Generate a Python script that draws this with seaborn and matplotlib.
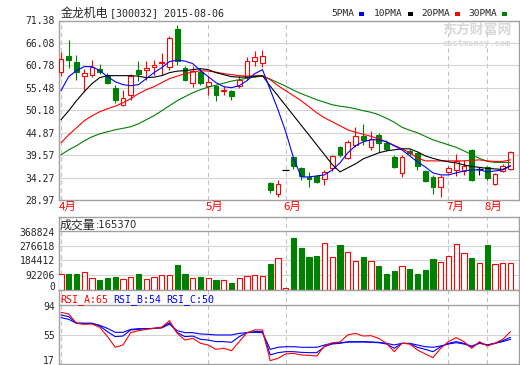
import matplotlib
matplotlib.use('Agg')
import matplotlib.pyplot as plt
from matplotlib.patches import Rectangle
from matplotlib.transforms import blended_transform_factory, ScaledTranslation
import numpy as np
import pandas as pd
import seaborn as sns

# ---- values (one entry per trading day) ----
opens = [59.23, 63.09, 61.50, 58.35, 58.59, 59.94, 58.59, 55.44, 51.48, 53.85,
         59.77, 59.61, 60.32, 61.30, 60.32, 69.41, 60.17, 56.62, 59.13, 55.82,
         55.98, 54.80, 54.80, 55.82, 57.95, 61.74, 61.36, 32.93, 30.32, 35.96,
         39.09, 36.48, 34.35, 34.66, 33.88, 36.48, 41.60, 38.85, 42.00, 44.14,
         41.46, 44.37, 42.40, 39.09, 35.44, 40.60, 40.04, 35.85, 34.35, 31.98,
         35.68, 36.08, 35.90, 40.82, 36.25, 36.86, 32.77, 35.90, 36.25]
closes = [62.31, 61.98, 59.23, 58.99, 60.32, 59.13, 56.62, 52.67, 53.07, 58.18,
          58.82, 60.17, 60.88, 61.50, 67.28, 61.74, 57.40, 59.37, 56.62, 56.86,
          53.85, 54.90, 53.45, 57.40, 61.90, 62.69, 62.93, 31.34, 32.69, 35.96,
          37.03, 34.66, 33.95, 33.31, 35.68, 39.40, 39.64, 42.79, 44.14, 43.19,
          43.36, 42.55, 40.98, 36.87, 39.24, 40.00, 37.03, 33.55, 31.98, 34.50,
          36.48, 38.29, 37.03, 33.71, 36.25, 34.12, 35.13, 37.03, 40.42]
highs = [63.87, 66.88, 63.33, 60.01, 62.14, 61.12, 58.99, 56.22, 55.03, 58.82,
         61.90, 61.74, 62.14, 63.73, 67.83, 70.20, 60.56, 60.56, 60.17, 58.19,
         56.22, 55.82, 55.03, 58.19, 62.69, 64.11, 64.51, 33.31, 33.71, 35.96,
         39.40, 36.86, 35.68, 34.90, 36.08, 39.64, 41.77, 43.19, 46.20, 46.98,
         45.16, 44.77, 43.03, 39.64, 39.64, 41.00, 40.42, 36.10, 34.90, 34.90,
         36.90, 39.87, 38.45, 40.98, 36.86, 37.00, 35.30, 37.40, 40.60]
lows = [58.19, 60.17, 57.24, 54.40, 58.04, 58.82, 56.29, 51.88, 51.08, 52.67,
        57.00, 57.40, 58.59, 58.59, 59.77, 60.96, 57.00, 55.67, 56.22, 53.85,
        52.43, 53.85, 52.67, 55.44, 57.40, 60.56, 60.32, 30.56, 29.76, 35.96,
        36.25, 33.71, 32.12, 33.07, 32.53, 35.92, 39.24, 38.62, 41.45, 42.00,
        40.82, 40.42, 40.66, 36.48, 34.35, 39.50, 36.08, 33.30, 30.40, 29.60,
        35.40, 34.66, 34.90, 33.55, 34.90, 33.71, 32.40, 35.60, 36.00]
volumes = [97900, 97900, 97900, 110500, 70700, 60000, 72600, 80800, 66300, 77000,
           97900, 66300, 80800, 91600, 91600, 154700, 97900, 70700, 78900, 70700,
           60000, 60000, 39000, 70700, 87400, 91600, 85300, 161000, 197000, 7600,
           325200, 262000, 205200, 211600, 291700, 203300, 281000, 234900, 178000, 205200,
           178000, 148400, 97900, 116800, 146500, 129500, 97900, 123100, 192600, 171800,
           209700, 285400, 228600, 198900, 165400, 281000, 159100, 165400, 165370]

ma5 = [54.80, 58.11, 59.53, 60.48, 60.48, 59.53, 58.11, 56.93, 56.22, 55.98,
       56.22, 57.64, 59.06, 60.25, 61.67, 62.02, 61.79, 61.19, 59.53, 58.11,
       56.69, 55.74, 55.51, 55.98, 57.17, 58.82, 59.77, 55.03, 50.30, 45.08,
       38.92, 34.42, 34.42, 34.66, 34.90, 36.08, 37.74, 40.11, 41.77, 42.72,
       43.19, 43.19, 42.72, 41.77, 40.82, 39.40, 37.98, 36.79, 35.37, 34.90,
       34.90, 35.37, 35.84, 36.08, 36.08, 35.61, 35.84, 36.08, 37.03]
ma10 = [47.93, 50.06, 52.43, 54.56, 56.46, 57.88, 58.35, 58.35, 58.35, 58.35,
        58.23, 57.88, 58.00, 58.35, 59.06, 59.42, 59.53, 59.77, 60.01, 59.77,
        59.06, 58.59, 58.11, 58.00, 58.00, 58.11, 58.35, 55.86, 53.57, 51.24,
        48.95, 46.62, 44.33, 42.00, 39.68, 37.36, 35.61, 36.56, 37.50, 38.69,
        39.40, 40.11, 40.58, 40.82, 41.06, 41.06, 40.35, 39.40, 38.81, 38.33,
        37.98, 37.74, 37.27, 36.91, 36.67, 36.44, 36.32, 36.20, 37.03]
ma20 = [42.48, 44.37, 46.03, 47.69, 48.87, 49.82, 50.53, 51.13, 51.95, 52.90,
        54.09, 55.03, 55.74, 56.69, 57.64, 58.23, 58.82, 59.18, 59.53, 59.42,
        59.18, 58.82, 58.59, 58.35, 58.23, 58.35, 58.35, 57.40, 55.98, 54.80,
        53.61, 52.43, 51.01, 49.59, 48.40, 47.45, 46.51, 45.56, 44.97, 44.49,
        44.02, 43.43, 42.72, 41.89, 41.06, 40.11, 38.92, 38.21, 38.21, 38.21,
        38.21, 38.21, 38.21, 38.33, 38.45, 38.21, 38.09, 38.09, 38.45]
ma30 = [39.64, 40.82, 41.77, 42.95, 43.90, 44.61, 45.08, 45.56, 45.91, 46.27,
        46.98, 47.93, 48.87, 50.06, 51.24, 52.43, 53.38, 54.32, 55.03, 55.63,
        56.10, 56.57, 57.05, 57.40, 57.76, 58.00, 58.23, 57.52, 56.69, 55.86,
        54.92, 54.09, 53.38, 52.66, 52.07, 51.48, 51.13, 50.89, 50.53, 50.06,
        49.70, 49.11, 48.28, 47.34, 46.15, 45.44, 44.85, 44.02, 43.19, 42.60,
        42.00, 41.41, 40.58, 39.64, 38.81, 38.10, 37.86, 37.86, 37.86]

rsi_a = [84.4, 82.3, 70.1, 68.8, 69.2, 64.9, 52.7, 38.8, 41.8, 57.9,
         60.5, 62.2, 63.5, 64.9, 73.6, 57.0, 48.3, 50.5, 44.0, 41.8,
         36.1, 37.5, 34.4, 46.2, 57.9, 61.4, 61.4, 21.4, 24.4, 30.1,
         30.9, 28.8, 28.3, 27.4, 40.5, 44.8, 45.7, 54.9, 57.0, 53.5,
         54.0, 50.5, 44.0, 33.1, 44.0, 43.1, 35.3, 30.1, 25.3, 37.5,
         46.2, 51.4, 46.2, 37.5, 46.2, 40.5, 44.0, 49.2, 59.2]
rsi_b = [81.0, 78.8, 70.5, 70.1, 70.1, 66.6, 59.2, 52.7, 53.5, 61.4,
         62.2, 63.1, 63.5, 64.9, 70.9, 57.9, 52.7, 53.5, 49.2, 48.3,
         46.2, 46.2, 45.3, 52.7, 57.9, 59.2, 59.2, 28.8, 31.8, 33.1,
         33.1, 32.2, 31.8, 31.8, 39.6, 43.1, 44.0, 45.7, 45.7, 45.7,
         45.3, 44.8, 43.1, 37.5, 44.0, 43.6, 38.8, 36.1, 33.1, 39.6,
         44.0, 46.2, 44.0, 38.8, 44.8, 41.8, 44.0, 47.5, 51.8]
rsi_c = [77.5, 75.3, 70.1, 70.1, 70.1, 67.5, 63.5, 58.3, 58.3, 62.2,
         63.1, 63.1, 63.5, 64.0, 69.0, 60.5, 57.9, 57.9, 56.2, 55.7,
         54.9, 54.9, 54.9, 57.0, 57.9, 58.3, 57.9, 36.1, 38.8, 39.6,
         39.6, 38.8, 38.8, 38.8, 41.8, 44.0, 44.8, 45.7, 46.2, 46.2,
         45.7, 45.3, 44.0, 41.8, 44.0, 44.0, 41.8, 39.6, 38.8, 40.5,
         43.1, 44.8, 43.1, 40.5, 44.0, 41.8, 44.0, 46.2, 49.2]

month_pos = [0, 19, 29, 50, 55]
month_labels = ['4月', '5月', '6月', '7月', '8月']
price_ticks = [28.97, 34.27, 39.57, 44.87, 50.18, 55.48, 60.78, 66.08, 71.38]
vol_ticks = [0, 92206, 184412, 276618, 368824]
rsi_ticks = [17, 55, 94]
stock_name = '金龙机电'
stock_info = '[300032] 2015-08-06'
last_volume = 165370
rsi_last = [65, 54, 50]

# ---- styling ----
RED = '#ff0000'
GREEN = '#008000'
BLUE = '#0000ff'
BORDER = '#a0a0a0'
GRID = '#d4d4d4'
VGRID = '#c4c4c4'
MONO = 'DejaVu Sans Mono'
CJK = ['Noto Sans CJK SC', 'DejaVu Sans']

sns.set_theme(style='white')
plt.rcParams['font.family'] = CJK

W, H = 520, 365
fig = plt.figure(figsize=(W / 100, H / 100), dpi=100)
fig.patch.set_facecolor('white')


def px_axes(left, top, right, bottom):
    return fig.add_axes([left / W, 1 - bottom / H, (right - left) / W, (bottom - top) / H])


def ftext(x, y, s, **kw):
    return fig.text(x / W, 1 - y / H, s, va='center', ha='left', **kw)


def nudge_labels(ax, shifts):
    # shift individual tick labels vertically by a few pixels (keeps them inside the frame)
    labels = ax.get_yticklabels()
    for k, dy in shifts.items():
        lab = labels[k]
        lab.set_transform(lab.get_transform() + ScaledTranslation(0, dy / 100, fig.dpi_scale_trans))


idx = np.arange(len(closes))
df = pd.DataFrame({'i': idx, 'ma5': ma5, 'ma10': ma10, 'ma20': ma20, 'ma30': ma30,
                   'rsi_a': rsi_a, 'rsi_b': rsi_b, 'rsi_c': rsi_c})

ax_p = px_axes(58.5, 20.5, 519, 200)
ax_v = px_axes(58.5, 217, 519, 289.5)
ax_r = px_axes(58.5, 289.5, 519, 364)

x0 = -0.32
x1 = x0 + 460.5 / 7.75

for ax in (ax_p, ax_v, ax_r):
    ax.set_facecolor('white')
    ax.set_xticks([])
    for sp in ax.spines.values():
        sp.set_color(BORDER)
        sp.set_linewidth(1.0)
    ax.tick_params(axis='y', length=0, pad=2.5, labelsize=7)
    for m in month_pos:
        ax.axvline(m, color=VGRID, lw=0.8, ls=(0, (4, 3)), zorder=0)

# ---- price panel ----
for i in idx:
    o, c, h, l = opens[i], closes[i], highs[i], lows[i]
    col = RED if c > o else (GREEN if c < o else 'black')
    if h > l:
        ax_p.vlines(i, l, h, color=col, lw=0.8, zorder=2)
    if c == o:
        ax_p.hlines(o, i - 0.42, i + 0.42, color=col, lw=0.9, zorder=3)
    else:
        face = 'white' if c > o else col
        ax_p.bar(i, abs(c - o), bottom=min(o, c), width=0.62, color=face,
                 edgecolor=col, lw=0.8, zorder=3)

for col_name, color in [('ma30', GREEN), ('ma20', RED), ('ma10', 'black'), ('ma5', BLUE)]:
    sns.lineplot(data=df, x='i', y=col_name, ax=ax_p, color=color, lw=0.8, zorder=4)
ax_p.set_xlabel('')
ax_p.set_ylabel('')
ax_p.set_ylim(price_ticks[0], price_ticks[-1])
ax_p.set_yticks(price_ticks)
ax_p.set_yticklabels(['%.2f' % t for t in price_ticks], fontfamily=MONO)
for t in price_ticks[1:-1]:
    ax_p.axhline(t, color=GRID, lw=0.8, zorder=0)

trans = blended_transform_factory(ax_p.transData, ax_p.transAxes)
for m, lab in zip(month_pos, month_labels):
    ax_p.text(m - 0.3, -0.04, lab, transform=trans, color=RED, fontsize=8.2,
              va='center', ha='left', family=CJK)

# ---- volume panel ----
for i in idx:
    o, c = opens[i], closes[i]
    if c < o:
        ax_v.bar(i, volumes[i], width=0.66, color=GREEN, edgecolor=GREEN, lw=0.8, zorder=3)
    else:
        ax_v.bar(i, volumes[i], width=0.66, color='white', edgecolor=RED, lw=0.8, zorder=3)
vtop = vol_ticks[-1] * (289.5 - 217) / (289.5 - 231)
ax_v.set_ylim(0, vtop)
ax_v.set_yticks(vol_ticks)
ax_v.set_yticklabels([str(t) for t in vol_ticks], fontfamily=MONO)
for t in vol_ticks[1:-1]:
    ax_v.axhline(t, color=GRID, lw=0.8, zorder=0)
ax_v.axhline(vol_ticks[-1], color=BORDER, lw=1.0, zorder=1)
nudge_labels(ax_v, {0: 3.0, 4: -1.5})

# ---- RSI panel ----
for col_name, color in [('rsi_c', BLUE), ('rsi_b', BLUE), ('rsi_a', RED)]:
    sns.lineplot(data=df, x='i', y=col_name, ax=ax_r, color=color, lw=0.8, zorder=4)
ax_r.set_xlabel('')
ax_r.set_ylabel('')
rtop = rsi_ticks[-1] + (305 - 289.5) * (rsi_ticks[-1] - rsi_ticks[0]) / (364 - 305)
ax_r.set_ylim(rsi_ticks[0], rtop)
ax_r.set_yticks(rsi_ticks)
ax_r.set_yticklabels([str(t) for t in rsi_ticks], fontfamily=MONO)
ax_r.axhline(rsi_ticks[1], color=GRID, lw=0.8, zorder=0)
ax_r.axhline(rsi_ticks[-1], color=BORDER, lw=1.0, zorder=1)
nudge_labels(ax_r, {0: 4.0, 2: -1.5})

for ax in (ax_p, ax_v, ax_r):
    ax.set_xlim(x0, x1)

# ---- header, legend, panel titles ----
ftext(61, 13.5, stock_name, fontsize=8.6, family=CJK)
ftext(110.5, 13.5, stock_info, fontsize=7.2, family=MONO)

legend_items = [('5PMA', 331, BLUE), ('10PMA', 374, 'black'),
                ('20PMA', 421, RED), ('30PMA', 468, GREEN)]
for lab, lx, color in legend_items:
    ftext(lx, 14, lab, fontsize=6.8, family=MONO)
    sx = lx + len(lab) * 5.9 + 4
    fig.add_artist(Rectangle((sx / W, 1 - 15.5 / H), 5 / W, 3.5 / H,
                             transform=fig.transFigure, color=color, lw=0))

# faint watermark
ftext(442, 30, '东方财富网', fontsize=10, color='#d8d8d8', family=CJK, fontweight='bold')
ftext(443, 43, 'eastmoney.com', fontsize=6.2, color='#d8d8d8', family=MONO, fontweight='bold')

ftext(60, 225, '成交量', fontsize=8.6, family=CJK)
ftext(96, 225, ':%d' % last_volume, fontsize=7.2, family='DejaVu Sans')

ftext(60, 299.5, 'RSI_A:%d' % rsi_last[0], fontsize=7.2, family=MONO, color=RED)
ftext(113, 299.5, 'RSI_B:%d' % rsi_last[1], fontsize=7.2, family=MONO, color=BLUE)
ftext(166.5, 299.5, 'RSI_C:%d' % rsi_last[2], fontsize=7.2, family=MONO, color=BLUE)

fig.savefig('out.png', dpi=100, facecolor='white')
